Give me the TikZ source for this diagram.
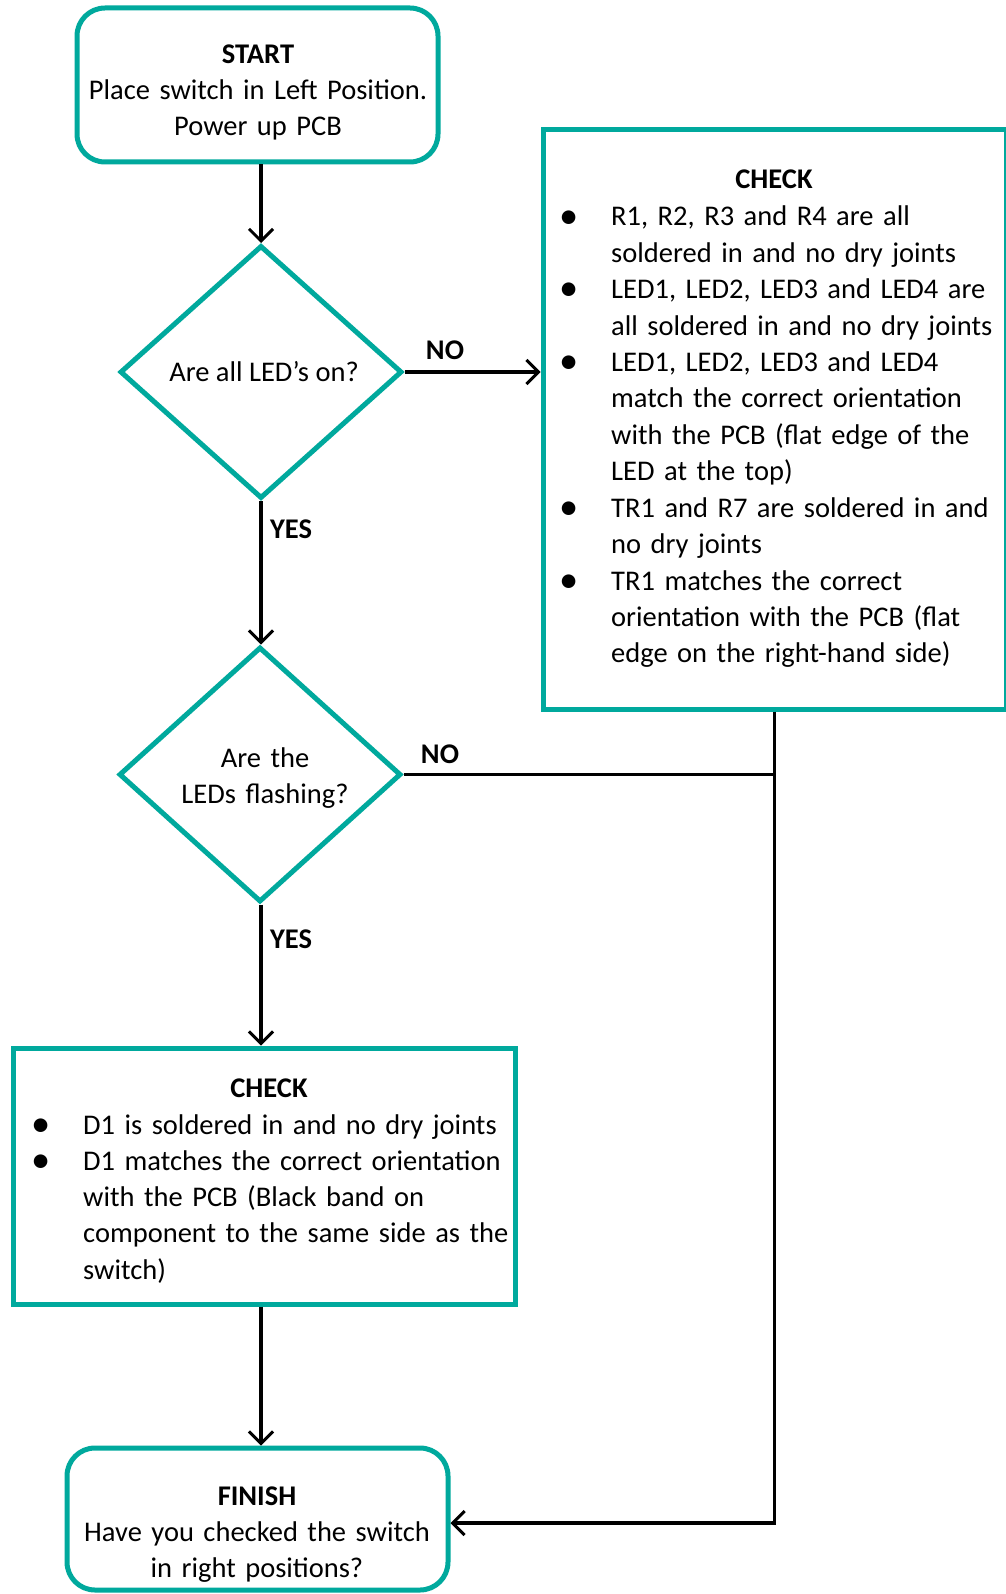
\documentclass[tikz,border=0pt]{standalone}
\usepackage{fontspec}
\setmainfont{Carlito}
\usetikzlibrary{shapes.geometric,arrows.meta,calc}
\definecolor{teal1}{RGB}{0,169,157}
\newcommand\bu{\leavevmode\llap{\makebox[84pt][c]{\raisebox{-2pt}{\scalebox{1.35}{•}}}}}
\begin{document}
\begin{tikzpicture}[x=1pt,y=-1pt,
  box/.style={draw=teal1,line width=5pt,inner sep=0pt,fill=none},
  rbox/.style={box,rectangle,rounded corners=28pt},
  sbox/.style={box,rectangle},
  dia/.style={box,diamond},
  txt/.style={inner sep=0pt,font=\fontsize{28.5}{36}\selectfont},
  lst/.style={txt,align=left,font=\fontsize{28.5}{36.4}\selectfont},
  lbl/.style={txt,font=\fontsize{28.5}{36}\selectfont\bfseries,anchor=base},
  conn/.style={draw=black,line width=3.2pt},
  arr/.style={conn,-{Straight Barb[length=12pt,width=24pt,line width=3pt]}}]
\useasboundingbox (0,0) rectangle (1005,1594);
\fill[white] (0,0) rectangle (1005,1594);
% shapes
\node[rbox,minimum width=361pt,minimum height=154pt] (start) at (257.5,85) {};
\node[dia,minimum width=282pt,minimum height=253pt] (d1) at (261,372) {};
\node[dia,minimum width=282pt,minimum height=255pt] (d2) at (260,774.5) {};
\node[sbox,minimum width=463pt,minimum height=579pt] (chk1) at (774.5,419.5) {};
\node[sbox,minimum width=502pt,minimum height=256pt] (chk2) at (264,1176) {};
\node[rbox,minimum width=381pt,minimum height=142pt] (fin) at (257.5,1519) {};
% texts
\node[txt,anchor=base,align=center,text width=380pt] (tstart) at (258,64)
  {\textbf{START}\\Place switch in Left Position.\\Power up PCB};
\node[txt,anchor=base] (td1) at (264,381) {Are all LED’s on?};
\node[txt,anchor=base,align=center,text width=260pt] (td2) at (265,767)
  {Are the\\LEDs flashing?};
\node[lbl] (h1) at (774,189) {CHECK};
\node[lst,anchor=base west,text width=400pt] (l1) at (611,226)
  {\bu R1, R2, R3 and R4 are all\\
   soldered in and no dry joints\\
   \bu LED1, LED2, LED3 and LED4 are\\
   all soldered in and no dry joints\\
   \bu LED1, LED2, LED3 and LED4\\
   match the correct orientation\\
   with the PCB (flat edge of the\\
   LED at the top)\\
   \bu TR1 and R7 are soldered in and\\
   no dry joints\\
   \bu TR1 matches the correct\\
   orientation with the PCB (flat\\
   edge on the right-hand side)};
\node[lbl] (h2) at (269,1097) {CHECK};
\node[lst,anchor=base west,text width=430pt,font=\fontsize{28.5}{36.3}\selectfont] (l2) at (83,1134)
  {\bu D1 is soldered in and no dry joints\\
   \bu D1 matches the correct orientation\\
   with the PCB (Black band on\\
   component to the same side as the\\
   switch)};
\node[txt,anchor=base,align=center,text width=380pt] (tfin) at (257,1505)
  {\textbf{FINISH}\\Have you checked the switch\\in right positions?};
% labels
\node[lbl] (no1) at (445,359.5) {NO};
\node[lbl] (no2) at (440,763.5) {NO};
\node[lbl] (yes1) at (291,538.5) {YES};
\node[lbl] (yes2) at (291,948.5) {YES};
% connectors
\coordinate (join) at (chk1.south |- d2.east);
\coordinate (corner) at (774.5,1523);
\draw[arr] (d1.north |- start.south) -- (d1.north);
\draw[arr] (d1.east) -- (d1.east -| chk1.west);
\draw[arr] (d1.south) -- (d1.south |- d2.north);
\draw[conn] (d2.east) -- (join);
\draw[arr] (chk1.south) -- (corner) -- (corner -| fin.east);
\draw[arr] (d1.south |- d2.south) -- (d1.south |- chk2.north);
\draw[arr] (d1.south |- chk2.south) -- (d1.south |- fin.north);
\end{tikzpicture}
\end{document}
